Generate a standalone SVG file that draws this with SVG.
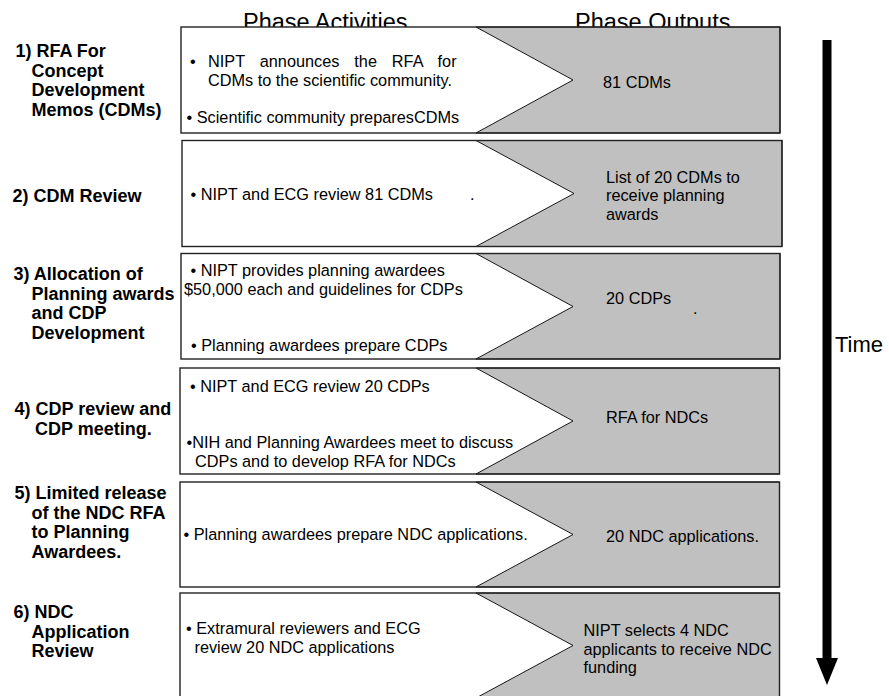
<svg xmlns="http://www.w3.org/2000/svg" width="889" height="696" viewBox="0 0 889 696">
<style>
text{font-family:"Liberation Sans",Arial,Helvetica,sans-serif;fill:#000}
.lbl{font-weight:bold;font-size:18px}
.txt{font-size:16.3px}
.ttl{font-size:23.5px}
.bg{fill:#fff;stroke:none}
.out{fill:#c0c0c0;stroke:#000;stroke-width:0.9}
.frame{fill:none;stroke:#222;stroke-width:1.4}
</style>
<rect width="889" height="696" fill="#fff"/>
<g id="titles">
<text class="ttl" x="243" y="29.5">Phase Activities</text>
<text class="ttl" x="575" y="29.5">Phase Outputs</text>
</g>
<g id="row1">
<rect class="bg" x="181" y="27" width="599" height="106"/>
<polygon class="out" points="476,27 780,27 780,133 476,133 573,80"/>
<rect class="frame" x="181" y="27" width="599" height="106"/>
<text class="lbl" x="15.5" y="57">1) RFA For</text>
<text class="lbl" x="31.5" y="76.5">Concept</text>
<text class="lbl" x="31.5" y="96">Development</text>
<text class="lbl" x="31.5" y="115.5">Memos (CDMs)</text>
<text class="txt" x="190" y="67">•</text>
<text class="txt" x="208" y="67" word-spacing="10.4">NIPT announces the RFA for</text>
<text class="txt" x="208" y="86">CDMs to the scientific community.</text>
<text class="txt" x="186.5" y="123">• Scientific community preparesCDMs</text>
<text class="txt" x="603" y="87.5">81 CDMs</text>
</g>
<g id="row2">
<rect class="bg" x="182" y="140.5" width="600" height="106"/>
<polygon class="out" points="476,140.5 782,140.5 782,246.5 476,246.5 574,193.5"/>
<rect class="frame" x="182" y="140.5" width="600" height="106"/>
<text class="lbl" x="12.5" y="202">2) CDM Review</text>
<text class="txt" x="190.5" y="199.5">• NIPT and ECG review 81 CDMs</text>
<text class="txt" x="470" y="199.5">.</text>
<text class="txt" x="606" y="182.5">List of 20 CDMs to</text>
<text class="txt" x="606" y="201">receive planning</text>
<text class="txt" x="606" y="219.5">awards</text>
</g>
<g id="row3">
<rect class="bg" x="181" y="253.5" width="599" height="105.5"/>
<polygon class="out" points="476,253.5 780,253.5 780,359 476,359 573,306.5"/>
<rect class="frame" x="181" y="253.5" width="599" height="105.5"/>
<text class="lbl" x="13.5" y="280">3) Allocation of</text>
<text class="lbl" x="31.5" y="299.5">Planning awards</text>
<text class="lbl" x="31.5" y="319">and CDP</text>
<text class="lbl" x="31.5" y="338.5">Development</text>
<text class="txt" x="190.5" y="276">• NIPT provides planning awardees</text>
<text class="txt" x="184" y="294.7">$50,000 each and guidelines for CDPs</text>
<text class="txt" x="191" y="350.5">• Planning awardees prepare CDPs</text>
<text class="txt" x="606" y="303.5">20 CDPs</text>
<text class="txt" x="693" y="314">.</text>
</g>
<g id="row4">
<rect class="bg" x="180" y="368" width="599.5" height="106"/>
<polygon class="out" points="476,368 779.5,368 779.5,474 476,474 573,421"/>
<rect class="frame" x="180" y="368" width="599.5" height="106"/>
<text class="lbl" x="14.5" y="415">4) CDP review and</text>
<text class="lbl" x="35" y="434.5">CDP meeting.</text>
<text class="txt" x="190" y="392">• NIPT and ECG review 20 CDPs</text>
<text class="txt" x="186.5" y="448">•NIH and Planning Awardees meet to discuss</text>
<text class="txt" x="195" y="466.5">CDPs and to develop RFA for NDCs</text>
<text class="txt" x="606" y="422.5">RFA for NDCs</text>
</g>
<g id="row5">
<rect class="bg" x="180" y="482" width="599.5" height="105"/>
<polygon class="out" points="476,482 779.5,482 779.5,587 476,587 573,534.5"/>
<rect class="frame" x="180" y="482" width="599.5" height="105"/>
<text class="lbl" x="14.5" y="499">5) Limited release</text>
<text class="lbl" x="31.5" y="518.5">of the NDC RFA</text>
<text class="lbl" x="31.5" y="538">to Planning</text>
<text class="lbl" x="31.5" y="557.5">Awardees.</text>
<text class="txt" x="183.5" y="540">• Planning awardees prepare NDC applications.</text>
<text class="txt" x="606" y="542">20 NDC applications.</text>
</g>
<g id="row6">
<rect class="bg" x="180" y="593" width="599.5" height="105"/>
<polygon class="out" points="476,593 779.5,593 779.5,698 476,698 573,645.5"/>
<rect class="frame" x="180" y="593" width="599.5" height="105"/>
<text class="lbl" x="13.5" y="618">6) NDC</text>
<text class="lbl" x="31.5" y="637.5">Application</text>
<text class="lbl" x="31.5" y="657">Review</text>
<text class="txt" x="186" y="634">• Extramural reviewers and ECG</text>
<text class="txt" x="194.5" y="652.5">review 20 NDC applications</text>
<text class="txt" x="583.5" y="636">NIPT selects 4 NDC</text>
<text class="txt" x="583.5" y="654.5">applicants to receive NDC</text>
<text class="txt" x="583.5" y="673">funding</text>
</g>
<g id="connectors">
<rect x="822.5" y="40" width="9" height="619" fill="#000"/>
<polygon points="816,658 838,658 827,685" fill="#000"/>
</g>
<g id="time-label">
<text x="835" y="352" font-size="22">Time</text>
</g>
</svg>
